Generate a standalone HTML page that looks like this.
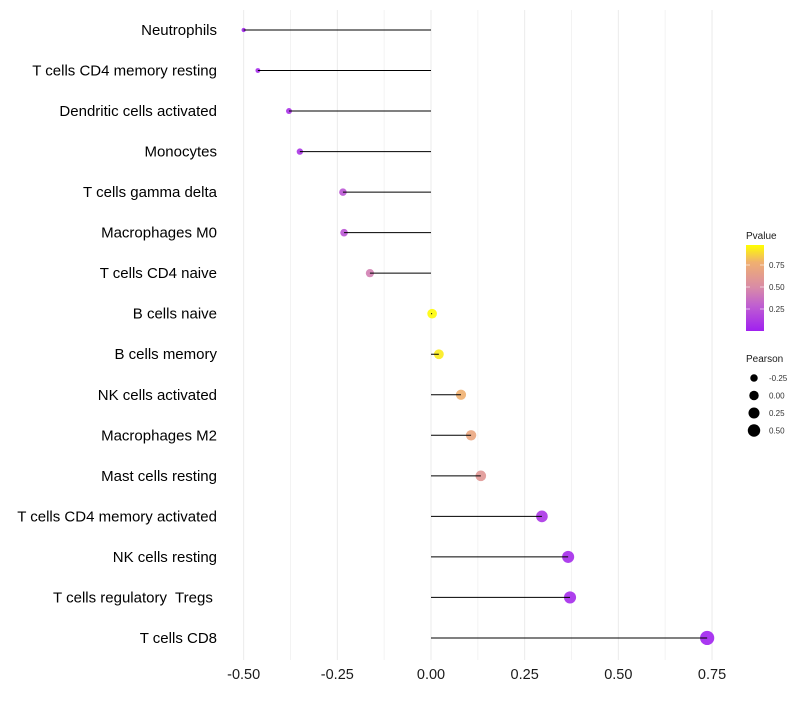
<!DOCTYPE html>
<html><head><meta charset="utf-8"><style>
body{margin:0;background:#fff;font-family:"Liberation Sans",sans-serif}
text{white-space:pre}
</style></head><body>
<svg id="c" width="800" height="700" xmlns="http://www.w3.org/2000/svg" style="font-family:'Liberation Sans',sans-serif"></svg>
<script>
const categories=["Neutrophils","T cells CD4 memory resting","Dendritic cells activated","Monocytes","T cells gamma delta","Macrophages M0","T cells CD4 naive","B cells naive","B cells memory","NK cells activated","Macrophages M2","Mast cells resting","T cells CD4 memory activated","NK cells resting","T cells regulatory  Tregs ","T cells CD8"];
const pearson=[-0.50,-0.462,-0.379,-0.35,-0.235,-0.232,-0.163,0.003,0.021,0.08,0.107,0.133,0.296,0.366,0.371,0.737];
const pvalues=[0.03,0.05,0.08,0.1,0.25,0.25,0.45,0.99,0.95,0.8,0.72,0.6,0.1,0.05,0.05,0.01];
const xTicks=[-0.5,-0.25,0,0.25,0.5,0.75];
const xTickLabels=["-0.50","-0.25","0.00","0.25","0.50","0.75"];
const pTicks=[0.25,0.5,0.75];
const sizeTicks=[-0.25,0,0.25,0.5];
const svg=document.getElementById('c');
const NS="http://www.w3.org/2000/svg";
const X=v=>431+v*374.7;
const Y=i=>30+i*40.53;
const R=v=>Math.sqrt(4.5+46*(v+0.5)/1.24);
const stops=[[0,[160,32,240]],[0.3,[192,96,208]],[0.5,[216,138,168]],[0.8,[240,176,112]],[1,[255,255,0]]];
function col(p){
 for(let k=0;k<stops.length-1;k++){
  const [p0,c0]=stops[k],[p1,c1]=stops[k+1];
  if(p<=p1){const t=(p-p0)/(p1-p0);return 'rgb('+c0.map((v,j)=>Math.round(v+(c1[j]-v)*t)).join(',')+')';}
 }
 return 'rgb(255,255,0)';
}
function el(tag,attrs,name){const e=document.createElementNS(NS,tag);for(const k in attrs)e.setAttribute(k,attrs[k]);svg.appendChild(e);return e;}
for(let v=-0.5;v<=0.751;v+=0.125){
 el('line',{x1:X(v),x2:X(v),y1:10,y2:660,stroke:Math.abs((v*4)%1)<0.01?'#ebebeb':'#f3f3f3','stroke-width':1},'grid-line');
}
xTicks.forEach((v,i)=>{
 const t=el('text',{x:X(v),y:679,'text-anchor':'middle','font-size':14.5,fill:'#1a1a1a'},'x-tick-label');t.textContent=xTickLabels[i];
});
categories.forEach((c,i)=>{
 const t=el('text',{x:217,y:Y(i)+5,'text-anchor':'end','font-size':15,fill:'#000'},'y-tick-label');t.textContent=c;
 el('circle',{cx:X(pearson[i]),cy:Y(i),r:R(pearson[i]),fill:col(pvalues[i]),'fill-opacity':0.9},'point');
 el('line',{x1:X(0),x2:X(pearson[i]),y1:Y(i),y2:Y(i),stroke:'#000','stroke-width':1},'stem');
});
const t1=el('text',{x:746,y:239,'font-size':10,fill:'#1a1a1a'},'pvalue-legend-title');t1.textContent='Pvalue';
const defs=document.createElementNS(NS,'defs');
defs.innerHTML='<linearGradient id="g" x1="0" y1="1" x2="0" y2="0"><stop offset="0" stop-color="rgb(160,32,240)"/><stop offset="0.3" stop-color="rgb(192,96,208)"/><stop offset="0.5" stop-color="rgb(216,138,168)"/><stop offset="0.8" stop-color="rgb(240,176,112)"/><stop offset="1" stop-color="rgb(255,255,0)"/></linearGradient>';
svg.appendChild(defs);
el('rect',{x:746,y:245,width:18,height:86,fill:'url(#g)'},'pvalue-colorbar');
const PY=p=>331-p*88;
pTicks.forEach(p=>{
 el('line',{x1:746,x2:750,y1:PY(p),y2:PY(p),stroke:'#fff','stroke-width':0.6},'colorbar-tick');
 el('line',{x1:760,x2:764,y1:PY(p),y2:PY(p),stroke:'#fff','stroke-width':0.6},'colorbar-tick');
 const t=el('text',{x:769,y:PY(p)+3,'font-size':8,fill:'#333'},'colorbar-label');t.textContent=p.toFixed(2);
});
const t2=el('text',{x:746,y:362,'font-size':10,fill:'#1a1a1a'},'pearson-legend-title');t2.textContent='Pearson';
sizeTicks.forEach((v,i)=>{
 const y=378+i*17.5;
 el('circle',{cx:754,cy:y,r:R(v)*0.9+0.4,fill:'#000'},'size-legend-key');
 const t=el('text',{x:769,y:y+3,'font-size':8,fill:'#333'},'size-legend-label');t.textContent=v.toFixed(2);
});
</script>
</body></html>
